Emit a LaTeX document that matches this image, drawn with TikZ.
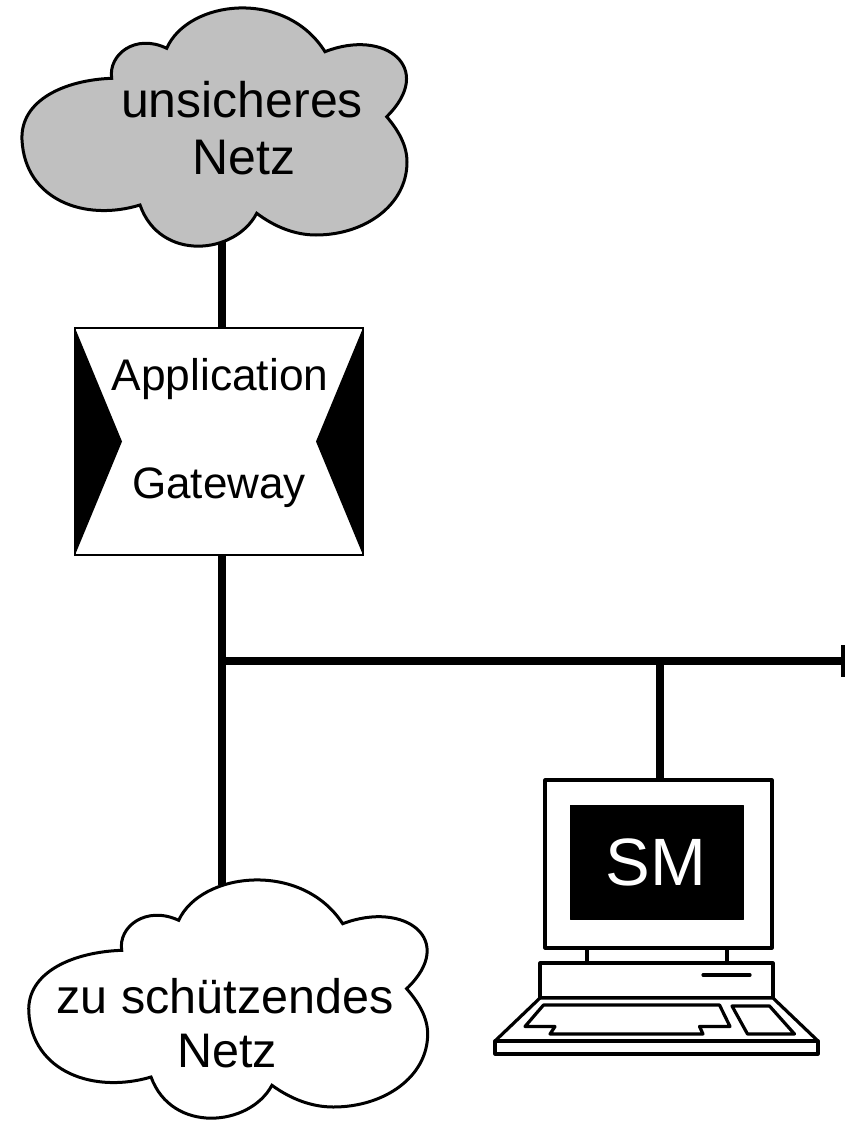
\documentclass[tikz,border=0pt]{standalone}
\usepackage{fontspec}
\setmainfont{Liberation Sans}
\tikzset{
  cloudline/.style={draw=black,line width=3pt,line join=miter},
  bus/.style={draw=black,line width=7.5pt},
  pc/.style={draw=black,line width=3.2pt,line join=round,fill=white},
  lbl/.style={anchor=base,inner sep=0pt,outer sep=0pt,text=black},
  gatebox/.style={draw=black,line width=2.6pt,fill=white,inner sep=0pt,outer sep=0pt,minimum width=288pt,minimum height=227pt},
}
\newcommand{\cloudoutline}{
  (111.7,78.3)
  .. controls (108,55) and (135,33) .. (166.7,48.3)
  .. controls (188,0) and (285,-12) .. (325,51.7)
  .. controls (385,28) and (436,68) .. (386.7,116.7)
  .. controls (398,130) and (407,145) .. (407,162)
  .. controls (407,205) and (365,235) .. (316,235)
  .. controls (295,235) and (275,227) .. (256.7,213.3)
  .. controls (235,255) and (160,262) .. (140,205)
  .. controls (85,222) and (25,200) .. (22,140)
  .. controls (20,100) and (65,80) .. (111.7,78.3)
  -- cycle}
\begin{document}
\begin{tikzpicture}[x=1pt,y=-1pt]
\useasboundingbox (0,0) rectangle (845,1123);
\fill[white] (0,0) rectangle (845,1123);
% named anchor points
\coordinate (cloudAfoot) at (222,240);
\coordinate (cloudBtop) at (222,885);
\coordinate (junction) at (222,661);
\coordinate (drop) at (660,661);
\coordinate (busend) at (843,661);
\coordinate (tickA) at (843,645);
\coordinate (tickB) at (843,677);
\node[gatebox] (gw) at (219,441.5) {};
\node[draw=none,inner sep=0pt,outer sep=0pt,minimum width=227pt,minimum height=168pt] (monitor) at (658.5,864) {};
% connectors
\draw[bus] (cloudAfoot) -- (cloudAfoot |- gw.north);
\draw[bus] (cloudAfoot |- gw.south) -- (cloudBtop);
\draw[bus] (junction) -- (busend);
\draw[bus,line width=3.5pt] (tickA) -- (tickB);
\draw[bus] (drop) -- (drop |- monitor.north);
% clouds
\draw[cloudline,fill={rgb,255:red,192;green,192;blue,192}] \cloudoutline;
\begin{scope}[shift={(6,872)},xscale=1.036]
\draw[cloudline,fill=white] \cloudoutline;
\end{scope}
% gateway
\node[gatebox] at (gw) {};
\fill[black] (gw.north west) -- (122,441.5) -- (gw.south west) -- cycle;
\fill[black] (gw.north east) -- (316,441.5) -- (gw.south east) -- cycle;
% computer
\node[pc,minimum width=227pt,minimum height=168pt,inner sep=0pt,outer sep=0pt] at (monitor) {};
\draw[line width=3.2pt] (587,948) -- (587,963);
\draw[line width=3.2pt] (727,948) -- (727,963);
\path[fill=black,draw=black,line width=1pt,line join=round] (570.5,805.5) rectangle (743,919);
\draw[pc] (540,963) rectangle (773,998);
\draw[line width=3.2pt,line cap=round] (703,975) -- (750,975);
\draw[pc] (540,998) -- (495,1041) -- (818,1041) -- (773,998) -- cycle;
\draw[pc] (495,1041) rectangle (818,1054);
\draw[pc] (543.5,1005) -- (719.5,1005) -- (730,1026.5) -- (699.5,1026.5) -- (703,1034) -- (550,1034) -- (555,1026.5) -- (525,1026.5) -- cycle;
\draw[pc] (732,1006) -- (769.5,1006) -- (794.5,1034) -- (747.5,1034) -- cycle;
% labels
\node[lbl,font=\fontsize{50}{51}\selectfont] (t1) at (242,118) {unsicheres};
\node[lbl,font=\fontsize{50}{51}\selectfont] (t2) at (244,175) {Netz};
\node[lbl,font=\fontsize{44.3}{45}\selectfont] (t3) at (220,390) {Application};
\node[lbl,font=\fontsize{44}{45}\selectfont] (t4) at (219,498) {Gateway};
\node[lbl,font=\fontsize{48.5}{49}\selectfont] (t5) at (225,1013) {zu schützendes};
\node[lbl,font=\fontsize{48.5}{49}\selectfont] (t6) at (227,1067) {Netz};
\node[lbl,text=white,font=\fontsize{67}{68}\selectfont] (t7) at (656,885) {SM};
\end{tikzpicture}
\end{document}
